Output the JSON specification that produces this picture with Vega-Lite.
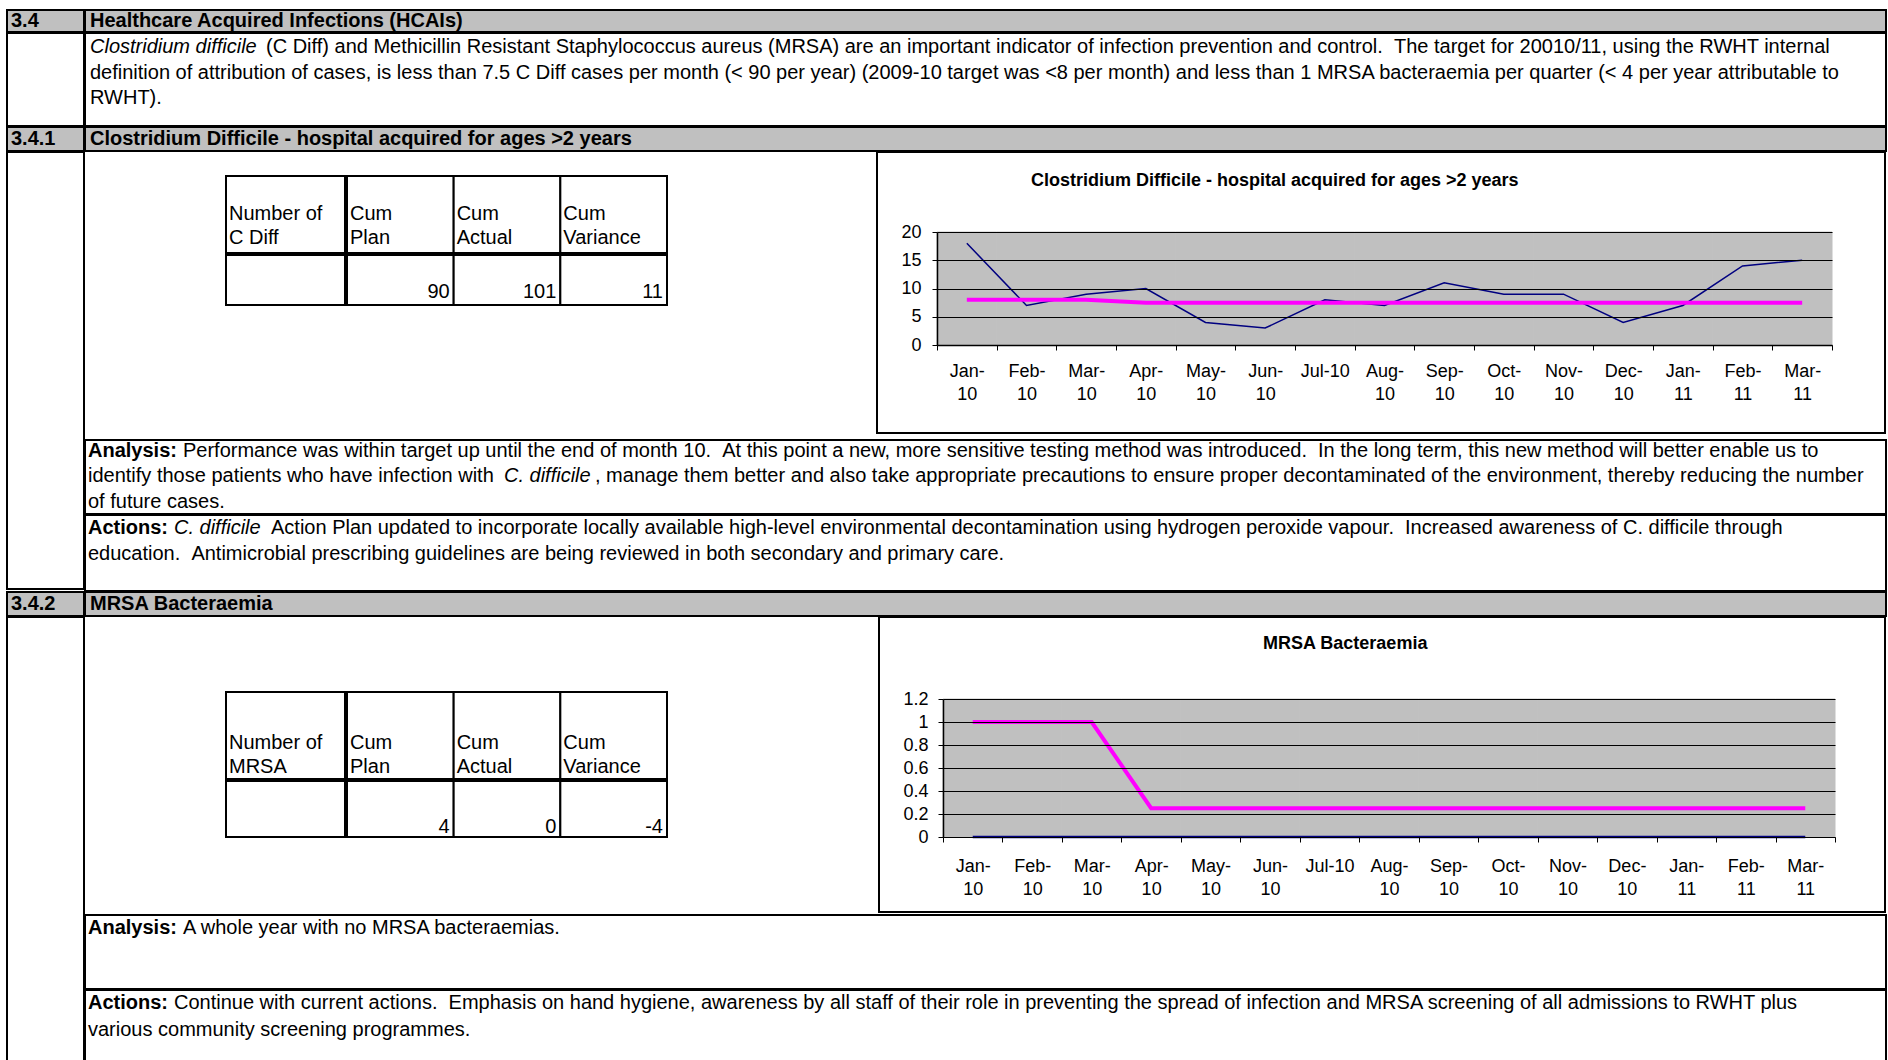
{
  "$schema": "https://vega.github.io/schema/vega-lite/v6.json",
  "background": "white",
  "padding": {"left": 6, "top": 9, "right": 0, "bottom": 0},
  "spacing": -4,
  "config": {
    "font": "Liberation Sans",
    "view": {"stroke": "black", "strokeWidth": 2, "fill": "white"},
    "text": {"font": "Liberation Sans", "fontSize": 20, "color": "black", "align": "left", "baseline": "middle"},
    "concat": {"spacing": -4},
    "title": {"font": "Liberation Sans", "color": "black"},
    "axis": {"labelFont": "Liberation Sans", "labelColor": "black", "titleFont": "Liberation Sans"}
  },
  "datasets": {
    "headers": [
      {"sec": "3.4", "title": "Healthcare Acquired Infections (HCAIs)"},
      {"sec": "3.4.1", "title": "Clostridium Difficile - hospital acquired for ages >2 years"},
      {"sec": "3.4.2", "title": "MRSA Bacteraemia"}
    ],
    "notes": [
      {"block": "intro", "line": 1, "seg": "emph", "text": "Clostridium difficile"},
      {"block": "intro", "line": 1, "seg": "rest", "text": "(C Diff) and Methicillin Resistant Staphylococcus aureus (MRSA) are an important indicator of infection prevention and control. \u00a0The target for 20010/11, using the RWHT internal"},
      {"block": "intro", "line": 2, "seg": "lead", "text": "definition of attribution of cases, is less than 7.5 C Diff cases per month (< 90 per year) (2009-10 target was <8 per month) and less than 1 MRSA bacteraemia per quarter (< 4 per year attributable to"},
      {"block": "intro", "line": 3, "seg": "lead", "text": "RWHT)."},
      {"block": "cdiff_analysis", "line": 1, "seg": "label", "text": "Analysis:"},
      {"block": "cdiff_analysis", "line": 1, "seg": "rest", "text": "Performance was within target up until the end of month 10. \u00a0At this point a new, more sensitive testing method was introduced. \u00a0In the long term, this new method will better enable us to"},
      {"block": "cdiff_analysis", "line": 2, "seg": "lead", "text": "identify those patients who have infection with"},
      {"block": "cdiff_analysis", "line": 2, "seg": "emph", "text": "C. difficile"},
      {"block": "cdiff_analysis", "line": 2, "seg": "tail", "text": ", manage them better and also take appropriate precautions to ensure proper decontaminated of the environment, thereby reducing the number"},
      {"block": "cdiff_analysis", "line": 3, "seg": "lead", "text": "of future cases."},
      {"block": "cdiff_actions", "line": 1, "seg": "label", "text": "Actions:"},
      {"block": "cdiff_actions", "line": 1, "seg": "emph", "text": "C. difficile"},
      {"block": "cdiff_actions", "line": 1, "seg": "rest", "text": "Action Plan updated to incorporate locally available high-level environmental decontamination using hydrogen peroxide vapour. \u00a0Increased awareness of C. difficile through"},
      {"block": "cdiff_actions", "line": 2, "seg": "lead", "text": "education. \u00a0Antimicrobial prescribing guidelines are being reviewed in both secondary and primary care."},
      {"block": "mrsa_analysis", "line": 1, "seg": "label", "text": "Analysis:"},
      {"block": "mrsa_analysis", "line": 1, "seg": "rest", "text": "A whole year with no MRSA bacteraemias."},
      {"block": "mrsa_actions", "line": 1, "seg": "label", "text": "Actions:"},
      {"block": "mrsa_actions", "line": 1, "seg": "rest", "text": "Continue with current actions. \u00a0Emphasis on hand hygiene, awareness by all staff of their role in preventing the spread of infection and MRSA screening of all admissions to RWHT plus"},
      {"block": "mrsa_actions", "line": 2, "seg": "lead", "text": "various community screening programmes."}
    ],
    "tables": [
      {"table": "cdiff", "col": "c1", "head": "Number of\nC Diff", "value": null},
      {"table": "cdiff", "col": "c2", "head": "Cum\nPlan", "value": 90},
      {"table": "cdiff", "col": "c3", "head": "Cum\nActual", "value": 101},
      {"table": "cdiff", "col": "c4", "head": "Cum\nVariance", "value": 11},
      {"table": "mrsa", "col": "c1", "head": "Number of\nMRSA", "value": null},
      {"table": "mrsa", "col": "c2", "head": "Cum\nPlan", "value": 4},
      {"table": "mrsa", "col": "c3", "head": "Cum\nActual", "value": 0},
      {"table": "mrsa", "col": "c4", "head": "Cum\nVariance", "value": -4}
    ],
    "cdiff": [
      {"month": "Jan-10", "series": "Actual", "value": 18},
      {"month": "Feb-10", "series": "Actual", "value": 7},
      {"month": "Mar-10", "series": "Actual", "value": 9},
      {"month": "Apr-10", "series": "Actual", "value": 10},
      {"month": "May-10", "series": "Actual", "value": 4},
      {"month": "Jun-10", "series": "Actual", "value": 3},
      {"month": "Jul-10", "series": "Actual", "value": 8},
      {"month": "Aug-10", "series": "Actual", "value": 7},
      {"month": "Sep-10", "series": "Actual", "value": 11},
      {"month": "Oct-10", "series": "Actual", "value": 9},
      {"month": "Nov-10", "series": "Actual", "value": 9},
      {"month": "Dec-10", "series": "Actual", "value": 4},
      {"month": "Jan-11", "series": "Actual", "value": 7},
      {"month": "Feb-11", "series": "Actual", "value": 14},
      {"month": "Mar-11", "series": "Actual", "value": 15},
      {"month": "Jan-10", "series": "Target", "value": 8},
      {"month": "Feb-10", "series": "Target", "value": 8},
      {"month": "Mar-10", "series": "Target", "value": 8},
      {"month": "Apr-10", "series": "Target", "value": 7.5},
      {"month": "May-10", "series": "Target", "value": 7.5},
      {"month": "Jun-10", "series": "Target", "value": 7.5},
      {"month": "Jul-10", "series": "Target", "value": 7.5},
      {"month": "Aug-10", "series": "Target", "value": 7.5},
      {"month": "Sep-10", "series": "Target", "value": 7.5},
      {"month": "Oct-10", "series": "Target", "value": 7.5},
      {"month": "Nov-10", "series": "Target", "value": 7.5},
      {"month": "Dec-10", "series": "Target", "value": 7.5},
      {"month": "Jan-11", "series": "Target", "value": 7.5},
      {"month": "Feb-11", "series": "Target", "value": 7.5},
      {"month": "Mar-11", "series": "Target", "value": 7.5}
    ],
    "mrsa": [
      {"month": "Jan-10", "series": "Actual", "value": 0},
      {"month": "Feb-10", "series": "Actual", "value": 0},
      {"month": "Mar-10", "series": "Actual", "value": 0},
      {"month": "Apr-10", "series": "Actual", "value": 0},
      {"month": "May-10", "series": "Actual", "value": 0},
      {"month": "Jun-10", "series": "Actual", "value": 0},
      {"month": "Jul-10", "series": "Actual", "value": 0},
      {"month": "Aug-10", "series": "Actual", "value": 0},
      {"month": "Sep-10", "series": "Actual", "value": 0},
      {"month": "Oct-10", "series": "Actual", "value": 0},
      {"month": "Nov-10", "series": "Actual", "value": 0},
      {"month": "Dec-10", "series": "Actual", "value": 0},
      {"month": "Jan-11", "series": "Actual", "value": 0},
      {"month": "Feb-11", "series": "Actual", "value": 0},
      {"month": "Mar-11", "series": "Actual", "value": 0},
      {"month": "Jan-10", "series": "Target", "value": 1},
      {"month": "Feb-10", "series": "Target", "value": 1},
      {"month": "Mar-10", "series": "Target", "value": 1},
      {"month": "Apr-10", "series": "Target", "value": 0.25},
      {"month": "May-10", "series": "Target", "value": 0.25},
      {"month": "Jun-10", "series": "Target", "value": 0.25},
      {"month": "Jul-10", "series": "Target", "value": 0.25},
      {"month": "Aug-10", "series": "Target", "value": 0.25},
      {"month": "Sep-10", "series": "Target", "value": 0.25},
      {"month": "Oct-10", "series": "Target", "value": 0.25},
      {"month": "Nov-10", "series": "Target", "value": 0.25},
      {"month": "Dec-10", "series": "Target", "value": 0.25},
      {"month": "Jan-11", "series": "Target", "value": 0.25},
      {"month": "Feb-11", "series": "Target", "value": 0.25},
      {"month": "Mar-11", "series": "Target", "value": 0.25}
    ]
  },
  "vconcat": [
    {
      "hconcat": [
        {"width": 77, "height": 22, "view": {"fill": "#c0c0c0"}, "data": {"name": "headers"}, "transform": [{"filter": "datum.sec == '3.4'"}], "mark": {"type": "text", "fontWeight": "bold"}, "encoding": {"x": {"value": 4}, "text": {"field": "sec", "type": "nominal"}}},
        {"width": 1801, "height": 22, "view": {"fill": "#c0c0c0"}, "data": {"name": "headers"}, "transform": [{"filter": "datum.sec == '3.4'"}], "mark": {"type": "text", "fontWeight": "bold"}, "encoding": {"x": {"value": 5}, "text": {"field": "title", "type": "nominal"}}}
      ]
    },
    {
      "hconcat": [
        {"width": 77, "height": 93, "view": {"stroke": "black", "strokeWidth": 2, "fill": "white"}, "data": {"name": "headers"}, "transform": [{"filter": "datum.sec == 'none'"}], "mark": {"type": "text", "fontSize": 0}, "encoding": {"text": {"field": "sec", "type": "nominal"}}},
        {
          "width": 1801, "height": 93,
          "data": {"name": "notes"},
          "transform": [{"filter": "datum.block == 'intro'"}],
          "encoding": {
            "y": {"field": "line", "type": "ordinal", "scale": {"type": "point", "domain": [1, 2, 3], "range": [14, 65], "padding": 0}, "axis": null},
            "text": {"field": "text", "type": "nominal"}
          },
          "layer": [
            {"transform": [{"filter": "datum.seg == 'emph'"}], "mark": {"type": "text", "fontStyle": "italic"}, "encoding": {"x": {"value": 5}}},
            {"transform": [{"filter": "datum.seg == 'rest'"}], "mark": {"type": "text"}, "encoding": {"x": {"value": 181}}},
            {"transform": [{"filter": "datum.seg == 'lead'"}], "mark": {"type": "text"}, "encoding": {"x": {"value": 5}}}
          ]
        }
      ]
    },
    {
      "hconcat": [
        {"width": 77, "height": 24, "view": {"fill": "#c0c0c0"}, "data": {"name": "headers"}, "transform": [{"filter": "datum.sec == '3.4.1'"}], "mark": {"type": "text", "fontWeight": "bold"}, "encoding": {"x": {"value": 4}, "text": {"field": "sec", "type": "nominal"}}},
        {"width": 1801, "height": 24, "view": {"fill": "#c0c0c0"}, "data": {"name": "headers"}, "transform": [{"filter": "datum.sec == '3.4.1'"}], "mark": {"type": "text", "fontWeight": "bold"}, "encoding": {"x": {"value": 5}, "text": {"field": "title", "type": "nominal"}}}
      ]
    },
    {
      "hconcat": [
        {"width": 77, "height": 437, "view": {"stroke": "black", "strokeWidth": 2, "fill": "white"}, "data": {"name": "headers"}, "transform": [{"filter": "datum.sec == 'none'"}], "mark": {"type": "text", "fontSize": 0}, "encoding": {"text": {"field": "sec", "type": "nominal"}}},
        {
          "vconcat": [
            {
              "hconcat": [
                {
                  "vconcat": [
                    {"width": 786, "height": 23, "view": {"stroke": "transparent", "fill": null}, "data": {"name": "headers"}, "transform": [{"filter": "datum.sec == 'none'"}], "mark": {"type": "text", "fontSize": 0}, "encoding": {"text": {"field": "sec", "type": "nominal"}}},
                    {
                      "hconcat": [
                        {"width": 140, "height": 127, "view": {"stroke": "transparent", "fill": null}, "data": {"name": "headers"}, "transform": [{"filter": "datum.sec == 'none'"}], "mark": {"type": "text", "fontSize": 0}, "encoding": {"text": {"field": "sec", "type": "nominal"}}},
                        {
                          "vconcat": [
                            {
                              "hconcat": [
                                {
                                  "width": 119, "height": 77, "view": {"stroke": "transparent"},
                                  "data": {"name": "tables"},
                                  "transform": [{"filter": "datum.table == 'cdiff' && datum.col == 'c1'"}],
                                  "encoding": {"x": {"field": "col", "type": "nominal", "sort": null, "scale": {"type": "band", "paddingInner": 0, "paddingOuter": 0}, "axis": null}},
                                  "layer": [
                                    {"mark": {"type": "rect", "fill": "white", "stroke": "black", "strokeWidth": 2}},
                                    {"mark": {"type": "text", "align": "left", "baseline": "middle", "lineBreak": "\n", "lineHeight": 24, "dx": 3, "dy": -0.5}, "encoding": {"x": {"field": "col", "type": "nominal", "sort": null, "bandPosition": 0}, "text": {"field": "head", "type": "nominal"}}}
                                  ]
                                },
                                {
                                  "width": 320, "height": 77, "view": {"stroke": "transparent"},
                                  "data": {"name": "tables"},
                                  "transform": [{"filter": "datum.table == 'cdiff' && datum.col != 'c1'"}],
                                  "encoding": {"x": {"field": "col", "type": "nominal", "sort": null, "scale": {"type": "band", "paddingInner": 0, "paddingOuter": 0}, "axis": null}},
                                  "layer": [
                                    {"mark": {"type": "rect", "fill": "white", "stroke": "black", "strokeWidth": 2}},
                                    {"mark": {"type": "text", "align": "left", "baseline": "middle", "lineBreak": "\n", "lineHeight": 24, "dx": 3, "dy": -0.5}, "encoding": {"x": {"field": "col", "type": "nominal", "sort": null, "bandPosition": 0}, "text": {"field": "head", "type": "nominal"}}}
                                  ]
                                }
                              ]
                            },
                            {
                              "hconcat": [
                                {
                                  "width": 119, "height": 50, "view": {"stroke": "transparent"},
                                  "data": {"name": "tables"},
                                  "transform": [{"filter": "datum.table == 'cdiff' && datum.col == 'c1'"}],
                                  "encoding": {"x": {"field": "col", "type": "nominal", "sort": null, "scale": {"type": "band", "paddingInner": 0, "paddingOuter": 0}, "axis": null}},
                                  "layer": [
                                    {"mark": {"type": "rect", "fill": "white", "stroke": "black", "strokeWidth": 2}}
                                  ]
                                },
                                {
                                  "width": 320, "height": 50, "view": {"stroke": "transparent"},
                                  "data": {"name": "tables"},
                                  "transform": [{"filter": "datum.table == 'cdiff' && datum.col != 'c1'"}],
                                  "encoding": {"x": {"field": "col", "type": "nominal", "sort": null, "scale": {"type": "band", "paddingInner": 0, "paddingOuter": 0}, "axis": null}},
                                  "layer": [
                                    {"mark": {"type": "rect", "fill": "white", "stroke": "black", "strokeWidth": 2}},
                                    {"mark": {"type": "text", "align": "right", "baseline": "middle", "dx": -4, "dy": 12}, "encoding": {"x": {"field": "col", "type": "nominal", "sort": null, "bandPosition": 1}, "text": {"field": "value", "type": "nominal"}}}
                                  ]
                                }
                              ]
                            }
                          ]
                        },
                        {"width": 207, "height": 127, "view": {"stroke": "transparent", "fill": null}, "data": {"name": "headers"}, "transform": [{"filter": "datum.sec == 'none'"}], "mark": {"type": "text", "fontSize": 0}, "encoding": {"text": {"field": "sec", "type": "nominal"}}}
                      ]
                    },
                    {"width": 786, "height": 132, "view": {"stroke": "transparent", "fill": null}, "data": {"name": "headers"}, "transform": [{"filter": "datum.sec == 'none'"}], "mark": {"type": "text", "fontSize": 0}, "encoding": {"text": {"field": "sec", "type": "nominal"}}}
                  ]
                },
                {
                  "vconcat": [
                    {
                      "width": 1008, "height": 281,
                      "view": {"stroke": "black", "strokeWidth": 2, "fill": "white"},
                      "title": {"text": "Clostridium Difficile - hospital acquired for ages >2 years", "anchor": "start", "frame": "group", "dx": 154, "offset": -47, "baseline": "middle", "fontSize": 18, "fontWeight": "bold", "font": "Liberation Sans", "color": "black"},
                      "data": {"name": "cdiff"},
                      "encoding": {
                        "x": {"field": "month", "type": "ordinal", "title": null,
                          "scale": {"type": "band", "domain": ["Jan-10","Feb-10","Mar-10","Apr-10","May-10","Jun-10","Jul-10","Aug-10","Sep-10","Oct-10","Nov-10","Dec-10","Jan-11","Feb-11","Mar-11"], "range": [60, 955], "paddingInner": 0, "paddingOuter": 0},
                          "axis": {"orient": "bottom", "offset": -88, "grid": false, "tickBand": "extent", "tickSize": 5, "tickColor": "black", "domainColor": "black", "domainWidth": 1.5, "labelAngle": 0, "labelFontSize": 18, "labelPadding": 12, "labelLineHeight": 23, "labelOverlap": false, "labelBound": false, "labelExpr": "datum.label == 'Jul-10' ? datum.label : [slice(datum.label, 0, 4), slice(datum.label, 4)]", "zindex": 1}},
                        "y": {"field": "value", "type": "quantitative", "title": null,
                          "scale": {"domain": [0, 20], "range": [193, 80], "nice": false},
                          "axis": {"orient": "left", "offset": -60, "values": [0, 5, 10, 15, 20], "grid": true, "gridColor": "black", "gridOpacity": 1, "gridWidth": 1, "tickSize": 5, "tickColor": "black", "domainColor": "black", "domainWidth": 1.5, "labelFontSize": 18, "labelPadding": 11, "zindex": 1}}
                      },
                      "layer": [
                        {"transform": [{"filter": "datum.series == 'Target'"}], "mark": {"type": "rect", "fill": "#c0c0c0", "stroke": "#c0c0c0", "strokeWidth": 1}, "encoding": {"y": {"datum": 0, "type": "quantitative", "title": null, "scale": {"domain": [0, 20], "range": [193, 80], "nice": false}}, "y2": {"datum": 20}}},
                        {"transform": [{"filter": "datum.series == 'Actual'"}], "mark": {"type": "line", "color": "#000080", "strokeWidth": 1.5}, "encoding": {"x": {"field": "month", "type": "ordinal", "title": null, "bandPosition": 0.5}}},
                        {"transform": [{"filter": "datum.series == 'Target'"}], "mark": {"type": "line", "color": "#ff00ff", "strokeWidth": 4}, "encoding": {"x": {"field": "month", "type": "ordinal", "title": null, "bandPosition": 0.5}}}
                      ]
                    },
                    {"width": 1008, "height": 1, "view": {"stroke": "transparent", "fill": null}, "data": {"name": "headers"}, "transform": [{"filter": "datum.sec == 'none'"}], "mark": {"type": "text", "fontSize": 0}, "encoding": {"text": {"field": "sec", "type": "nominal"}}}
                  ]
                }
              ]
            },
            {
              "width": 1801, "height": 74,
              "data": {"name": "notes"},
              "transform": [{"filter": "datum.block == 'cdiff_analysis'"}],
              "encoding": {
                "y": {"field": "line", "type": "ordinal", "scale": {"type": "point", "domain": [1, 2, 3], "range": [11, 61.5], "padding": 0}, "axis": null},
                "text": {"field": "text", "type": "nominal"}
              },
              "layer": [
                {"transform": [{"filter": "datum.seg == 'label'"}], "mark": {"type": "text", "fontWeight": "bold"}, "encoding": {"x": {"value": 3}}},
                {"transform": [{"filter": "datum.seg == 'rest'"}], "mark": {"type": "text"}, "encoding": {"x": {"value": 98}}},
                {"transform": [{"filter": "datum.seg == 'lead'"}], "mark": {"type": "text"}, "encoding": {"x": {"value": 3}}},
                {"transform": [{"filter": "datum.seg == 'emph'"}], "mark": {"type": "text", "fontStyle": "italic"}, "encoding": {"x": {"value": 419}}},
                {"transform": [{"filter": "datum.seg == 'tail'"}], "mark": {"type": "text"}, "encoding": {"x": {"value": 510}}}
              ]
            },
            {
              "width": 1801, "height": 76,
              "data": {"name": "notes"},
              "transform": [{"filter": "datum.block == 'cdiff_actions'"}],
              "encoding": {
                "y": {"field": "line", "type": "ordinal", "scale": {"type": "point", "domain": [1, 2, 3], "range": [13, 64], "padding": 0}, "axis": null},
                "text": {"field": "text", "type": "nominal"}
              },
              "layer": [
                {"transform": [{"filter": "datum.seg == 'label'"}], "mark": {"type": "text", "fontWeight": "bold"}, "encoding": {"x": {"value": 3}}},
                {"transform": [{"filter": "datum.seg == 'emph'"}], "mark": {"type": "text", "fontStyle": "italic"}, "encoding": {"x": {"value": 89}}},
                {"transform": [{"filter": "datum.seg == 'rest'"}], "mark": {"type": "text"}, "encoding": {"x": {"value": 186}}},
                {"transform": [{"filter": "datum.seg == 'lead'"}], "mark": {"type": "text"}, "encoding": {"x": {"value": 3}}}
              ]
            }
          ]
        }
      ]
    },
    {
      "hconcat": [
        {"width": 77, "height": 24, "view": {"fill": "#c0c0c0"}, "data": {"name": "headers"}, "transform": [{"filter": "datum.sec == '3.4.2'"}], "mark": {"type": "text", "fontWeight": "bold"}, "encoding": {"x": {"value": 4}, "text": {"field": "sec", "type": "nominal"}}},
        {"width": 1801, "height": 24, "view": {"fill": "#c0c0c0"}, "data": {"name": "headers"}, "transform": [{"filter": "datum.sec == '3.4.2'"}], "mark": {"type": "text", "fontWeight": "bold"}, "encoding": {"x": {"value": 5}, "text": {"field": "title", "type": "nominal"}}}
      ]
    },
    {
      "hconcat": [
        {"width": 77, "height": 452, "view": {"stroke": "black", "strokeWidth": 2, "fill": "white"}, "data": {"name": "headers"}, "transform": [{"filter": "datum.sec == 'none'"}], "mark": {"type": "text", "fontSize": 0}, "encoding": {"text": {"field": "sec", "type": "nominal"}}},
        {
          "vconcat": [
            {
              "hconcat": [
                {
                  "vconcat": [
                    {"width": 788, "height": 74, "view": {"stroke": "transparent", "fill": null}, "data": {"name": "headers"}, "transform": [{"filter": "datum.sec == 'none'"}], "mark": {"type": "text", "fontSize": 0}, "encoding": {"text": {"field": "sec", "type": "nominal"}}},
                    {
                      "hconcat": [
                        {"width": 140, "height": 144, "view": {"stroke": "transparent", "fill": null}, "data": {"name": "headers"}, "transform": [{"filter": "datum.sec == 'none'"}], "mark": {"type": "text", "fontSize": 0}, "encoding": {"text": {"field": "sec", "type": "nominal"}}},
                        {
                          "vconcat": [
                            {
                              "hconcat": [
                                {
                                  "width": 119, "height": 87, "view": {"stroke": "transparent"},
                                  "data": {"name": "tables"},
                                  "transform": [{"filter": "datum.table == 'mrsa' && datum.col == 'c1'"}],
                                  "encoding": {"x": {"field": "col", "type": "nominal", "sort": null, "scale": {"type": "band", "paddingInner": 0, "paddingOuter": 0}, "axis": null}},
                                  "layer": [
                                    {"mark": {"type": "rect", "fill": "white", "stroke": "black", "strokeWidth": 2}},
                                    {"mark": {"type": "text", "align": "left", "baseline": "middle", "lineBreak": "\n", "lineHeight": 24, "dx": 3, "dy": 7}, "encoding": {"x": {"field": "col", "type": "nominal", "sort": null, "bandPosition": 0}, "text": {"field": "head", "type": "nominal"}}}
                                  ]
                                },
                                {
                                  "width": 320, "height": 87, "view": {"stroke": "transparent"},
                                  "data": {"name": "tables"},
                                  "transform": [{"filter": "datum.table == 'mrsa' && datum.col != 'c1'"}],
                                  "encoding": {"x": {"field": "col", "type": "nominal", "sort": null, "scale": {"type": "band", "paddingInner": 0, "paddingOuter": 0}, "axis": null}},
                                  "layer": [
                                    {"mark": {"type": "rect", "fill": "white", "stroke": "black", "strokeWidth": 2}},
                                    {"mark": {"type": "text", "align": "left", "baseline": "middle", "lineBreak": "\n", "lineHeight": 24, "dx": 3, "dy": 7}, "encoding": {"x": {"field": "col", "type": "nominal", "sort": null, "bandPosition": 0}, "text": {"field": "head", "type": "nominal"}}}
                                  ]
                                }
                              ]
                            },
                            {
                              "hconcat": [
                                {
                                  "width": 119, "height": 56, "view": {"stroke": "transparent"},
                                  "data": {"name": "tables"},
                                  "transform": [{"filter": "datum.table == 'mrsa' && datum.col == 'c1'"}],
                                  "encoding": {"x": {"field": "col", "type": "nominal", "sort": null, "scale": {"type": "band", "paddingInner": 0, "paddingOuter": 0}, "axis": null}},
                                  "layer": [
                                    {"mark": {"type": "rect", "fill": "white", "stroke": "black", "strokeWidth": 2}}
                                  ]
                                },
                                {
                                  "width": 320, "height": 56, "view": {"stroke": "transparent"},
                                  "data": {"name": "tables"},
                                  "transform": [{"filter": "datum.table == 'mrsa' && datum.col != 'c1'"}],
                                  "encoding": {"x": {"field": "col", "type": "nominal", "sort": null, "scale": {"type": "band", "paddingInner": 0, "paddingOuter": 0}, "axis": null}},
                                  "layer": [
                                    {"mark": {"type": "rect", "fill": "white", "stroke": "black", "strokeWidth": 2}},
                                    {"mark": {"type": "text", "align": "right", "baseline": "middle", "dx": -4, "dy": 18}, "encoding": {"x": {"field": "col", "type": "nominal", "sort": null, "bandPosition": 1}, "text": {"field": "value", "type": "nominal"}}}
                                  ]
                                }
                              ]
                            }
                          ]
                        },
                        {"width": 209, "height": 144, "view": {"stroke": "transparent", "fill": null}, "data": {"name": "headers"}, "transform": [{"filter": "datum.sec == 'none'"}], "mark": {"type": "text", "fontSize": 0}, "encoding": {"text": {"field": "sec", "type": "nominal"}}}
                      ]
                    },
                    {"width": 788, "height": 75, "view": {"stroke": "transparent", "fill": null}, "data": {"name": "headers"}, "transform": [{"filter": "datum.sec == 'none'"}], "mark": {"type": "text", "fontSize": 0}, "encoding": {"text": {"field": "sec", "type": "nominal"}}}
                  ]
                },
                {
                  "width": 1006, "height": 295,
                  "view": {"stroke": "black", "strokeWidth": 2, "fill": "white"},
                  "title": {"text": "MRSA Bacteraemia", "anchor": "start", "frame": "group", "dx": 384, "offset": -45, "baseline": "middle", "fontSize": 18, "fontWeight": "bold", "font": "Liberation Sans", "color": "black"},
                  "data": {"name": "mrsa"},
                  "encoding": {
                    "x": {"field": "month", "type": "ordinal", "title": null,
                      "scale": {"type": "band", "domain": ["Jan-10","Feb-10","Mar-10","Apr-10","May-10","Jun-10","Jul-10","Aug-10","Sep-10","Oct-10","Nov-10","Dec-10","Jan-11","Feb-11","Mar-11"], "range": [64, 956], "paddingInner": 0, "paddingOuter": 0},
                      "axis": {"orient": "bottom", "offset": -75, "grid": false, "tickBand": "extent", "tickSize": 5, "tickColor": "black", "domainColor": "black", "domainWidth": 1, "labelAngle": 0, "labelFontSize": 18, "labelPadding": 15, "labelLineHeight": 23, "labelOverlap": false, "labelBound": false, "labelExpr": "datum.label == 'Jul-10' ? datum.label : [slice(datum.label, 0, 4), slice(datum.label, 4)]", "zindex": 1}},
                    "y": {"field": "value", "type": "quantitative", "title": null,
                      "scale": {"domain": [0, 1.2], "range": [220, 82], "nice": false},
                      "axis": {"orient": "left", "offset": -64, "values": [0, 0.2, 0.4, 0.6, 0.8, 1, 1.2], "format": "~g", "grid": true, "gridColor": "black", "gridOpacity": 1, "gridWidth": 1, "tickSize": 5, "tickColor": "black", "domainColor": "black", "domainWidth": 1.5, "labelFontSize": 18, "labelPadding": 10, "zindex": 1}}
                  },
                  "layer": [
                    {"transform": [{"filter": "datum.series == 'Target'"}], "mark": {"type": "rect", "fill": "#c0c0c0", "stroke": "#c0c0c0", "strokeWidth": 1}, "encoding": {"y": {"datum": 0, "type": "quantitative", "title": null, "scale": {"domain": [0, 1.2], "range": [220, 82], "nice": false}}, "y2": {"datum": 1.2}}},
                    {"transform": [{"filter": "datum.series == 'Actual'"}], "mark": {"type": "line", "color": "#000080", "strokeWidth": 2.5}, "encoding": {"x": {"field": "month", "type": "ordinal", "title": null, "bandPosition": 0.5}}},
                    {"transform": [{"filter": "datum.series == 'Target'"}], "mark": {"type": "line", "color": "#ff00ff", "strokeWidth": 4}, "encoding": {"x": {"field": "month", "type": "ordinal", "title": null, "bandPosition": 0.5}}}
                  ]
                }
              ]
            },
            {
              "width": 1801, "height": 74,
              "data": {"name": "notes"},
              "transform": [{"filter": "datum.block == 'mrsa_analysis'"}],
              "encoding": {
                "y": {"field": "line", "type": "ordinal", "scale": {"type": "point", "domain": [1, 2, 3], "range": [13, 64], "padding": 0}, "axis": null},
                "text": {"field": "text", "type": "nominal"}
              },
              "layer": [
                {"transform": [{"filter": "datum.seg == 'label'"}], "mark": {"type": "text", "fontWeight": "bold"}, "encoding": {"x": {"value": 3}}},
                {"transform": [{"filter": "datum.seg == 'rest'"}], "mark": {"type": "text"}, "encoding": {"x": {"value": 98}}}
              ]
            },
            {
              "width": 1801, "height": 80,
              "data": {"name": "notes"},
              "transform": [{"filter": "datum.block == 'mrsa_actions'"}],
              "encoding": {
                "y": {"field": "line", "type": "ordinal", "scale": {"type": "point", "domain": [1, 2, 3], "range": [13, 66], "padding": 0}, "axis": null},
                "text": {"field": "text", "type": "nominal"}
              },
              "layer": [
                {"transform": [{"filter": "datum.seg == 'label'"}], "mark": {"type": "text", "fontWeight": "bold"}, "encoding": {"x": {"value": 3}}},
                {"transform": [{"filter": "datum.seg == 'rest'"}], "mark": {"type": "text"}, "encoding": {"x": {"value": 89}}},
                {"transform": [{"filter": "datum.seg == 'lead'"}], "mark": {"type": "text"}, "encoding": {"x": {"value": 3}}}
              ]
            }
          ]
        }
      ]
    }
  ]
}
